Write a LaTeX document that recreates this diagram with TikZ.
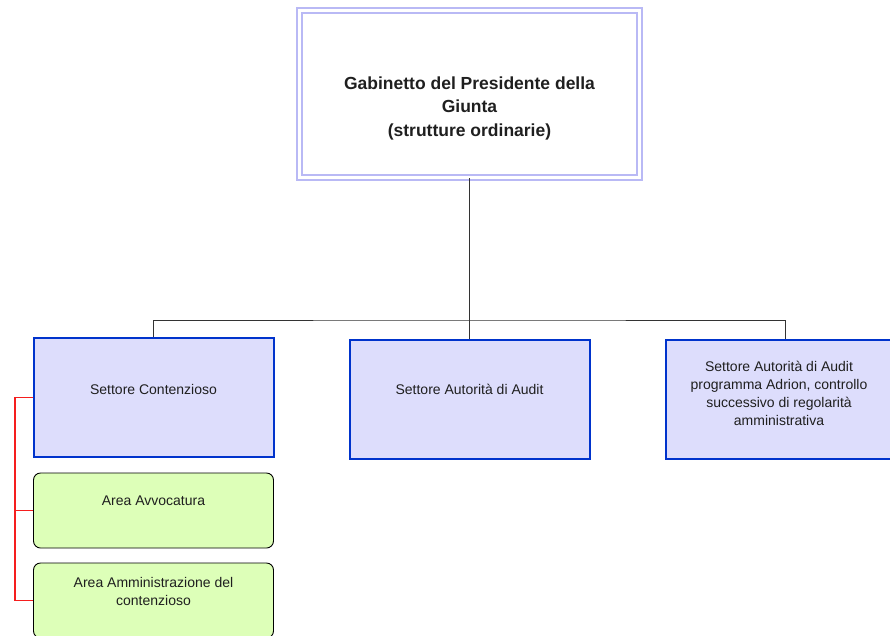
\documentclass[tikz,border=0pt]{standalone}
\usepackage{fontspec}
\setmainfont{Liberation Sans}
\begin{document}
\begin{tikzpicture}[x=1pt,y=-1pt,
  every node/.style={font=\fontsize{14}{18}\selectfont, text=black!88},
  sector/.style={draw={rgb,255:red,0;green,51;blue,204}, line width=2pt, fill={rgb,255:red,221;green,221;blue,252}, minimum width=240pt, minimum height=119pt, inner sep=0pt},
  area/.style={draw=black, line width=0.9pt, fill={rgb,255:red,221;green,255;blue,184}, rounded corners=7pt, minimum width=240pt, minimum height=75pt, inner sep=0pt},
  label/.style={align=center, inner sep=0pt},
  conn/.style={draw=black!80, line width=1pt},
  redconn/.style={draw={rgb,255:red,245;green,30;blue,30}, line width=1.2pt}
]
\useasboundingbox (0,0) rectangle (890,635);
% top box
\node[draw={rgb,255:red,185;green,185;blue,245}, double=white, double distance=3.2pt, line width=1.6pt, minimum width=340pt, minimum height=167pt, inner sep=0pt] (top) at (469.5,94) {};
\node[label, font=\bfseries\fontsize{17.5}{23.5}\selectfont] (toptext) at (469.5,108) {Gabinetto del Presidente della\\Giunta\\(strutture ordinarie)};
% sectors
\node[sector] (s1) at (153.5,397.5) {};
\node[label] (s1t) at (153.5,389) {Settore Contenzioso};
\node[sector] (s2) at (469.5,399) {};
\node[label] (s2t) at (469.5,389) {Settore Autorità di Audit};
\node[sector] (s3) at (785.5,399) {};
\node[label] (s3t) at (779,393) {Settore Autorità di Audit\\programma Adrion, controllo\\successivo di regolarità\\amministrativa};
% areas
\node[area] (a1) at (153.5,510.5) {};
\node[label] (a1t) at (153.5,501) {Area Avvocatura};
\node[area] (a2) at (153.5,600.5) {};
\node[label] (a2t) at (153.5,591.5) {Area Amministrazione del\\contenzioso};
% connectors
\coordinate (bus) at (469.5,320);
\draw[conn] (top.south) -- (bus);
\draw[conn] (s1.north) |- (bus) -| (s3.north);
\draw[conn] (bus) -- (s2.north);
\coordinate (rtop) at (15,397.5);
\draw[redconn] (s1.west) -- (rtop) |- (a2.west);
\draw[redconn] (a1.west) -- (a1.west -| rtop);
\end{tikzpicture}
\end{document}
